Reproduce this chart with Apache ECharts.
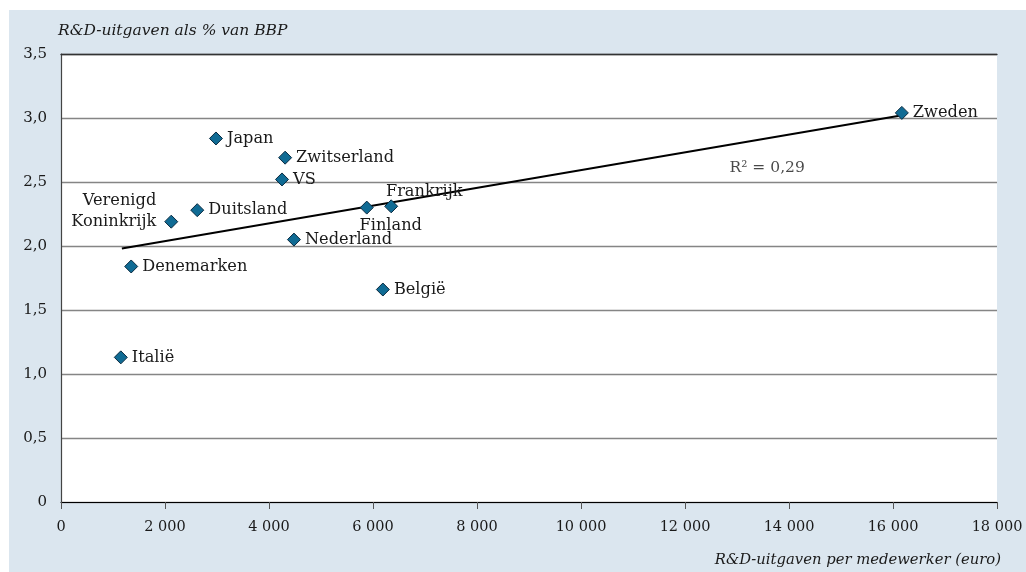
<!DOCTYPE html>
<html>
<head>
<meta charset="utf-8">
<script src="https://cdn.jsdelivr.net/npm/echarts@6/dist/echarts.min.js"></script>
<style>
html,body{margin:0;padding:0;background:#fff;}
#c{width:1026px;height:572px;}
</style>
</head>
<body>
<div id="c"></div>
<script>
// Data
var countries = ['Zweden','Japan','Zwitserland','VS','Duitsland','Verenigd\nKoninkrijk','Finland','Frankrijk','Nederland','Denemarken','België','Italië'];
var xValues = [16170, 2980, 4310, 4250, 2620, 2120, 5880, 6350, 4480, 1350, 6190, 1150];
var yValues = [3.04, 2.84, 2.69, 2.52, 2.28, 2.19, 2.30, 2.31, 2.05, 1.84, 1.66, 1.13];
var trendX = [1170, 16150];
var trendY = [1.98, 3.02];
var r2Text = 'R² = 0,29';
var r2Pos = [13580, 2.61];
var yTitle = 'R&D-uitgaven als % van BBP';
var xTitle = 'R&D-uitgaven per medewerker (euro)';

var FONT = 'DejaVu Serif';
var labelPos = {
  'Verenigd\nKoninkrijk': {position: 'left', offset: [0, -10], align: 'right', distance: 8, lineHeight: 21},
  'Finland': {position: 'bottom', offset: [24, 0], distance: 3},
  'Frankrijk': {position: 'top', offset: [33, 2], distance: 2}
};
var pts = countries.map(function (n, i) {
  var lp = labelPos[n] || {position: 'right', distance: 4};
  return {
    value: [xValues[i], yValues[i]],
    name: n,
    label: Object.assign({show: true, formatter: '{b}'}, lp)
  };
});

var chart = echarts.init(document.getElementById('c'));
chart.setOption({
  backgroundColor: '#ffffff',
  animation: false,
  graphic: [{
    type: 'rect', z: -10, silent: true,
    shape: {x: 9, y: 10, width: 1017, height: 562},
    style: {fill: '#dbe6ef'}
  }],
  title: [{
    text: yTitle, left: 53, top: 18,
    textStyle: {fontFamily: FONT, fontStyle: 'italic', fontWeight: 'normal', fontSize: 15.5, color: '#1a1a1a'}
  }, {
    text: xTitle, right: 20, top: 548,
    textStyle: {fontFamily: FONT, fontStyle: 'italic', fontWeight: 'normal', fontSize: 14.8, color: '#1a1a1a'}
  }],
  grid: {left: 61, top: 54, right: 29, bottom: 70, show: true, backgroundColor: '#ffffff', borderWidth: 0},
  xAxis: [{
    type: 'value', min: 0, max: 18000, interval: 2000,
    axisLine: {show: true, onZero: false, lineStyle: {color: '#000', width: 1.2}},
    axisTick: {show: true, length: 7, lineStyle: {color: '#555'}},
    splitLine: {show: false},
    axisLabel: {
      margin: 18, fontFamily: FONT, fontSize: 14.5, color: '#1a1a1a',
      formatter: function (v) { return String(v).replace(/\B(?=(\d{3})+(?!\d))/g, ' '); }
    }
  }, {
    type: 'value', min: 0, max: 18000, interval: 2000, position: 'top',
    axisLine: {show: true, onZero: false, lineStyle: {color: '#333', width: 1.3}},
    axisTick: {show: false}, axisLabel: {show: false}, splitLine: {show: false}
  }],
  yAxis: {
    type: 'value', min: 0, max: 3.5, interval: 0.5,
    axisLine: {show: true, lineStyle: {color: '#444', width: 1.2}},
    axisTick: {show: false},
    splitLine: {show: true, lineStyle: {color: '#858585', width: 1.3}},
    axisLabel: {
      margin: 14, fontFamily: FONT, fontSize: 15, color: '#1a1a1a',
      formatter: function (v) { return v === 0 ? '0' : v.toFixed(1).replace('.', ','); }
    }
  },
  series: [{
    type: 'line',
    data: trendX.map(function (x, i) { return [x, trendY[i]]; }),
    symbol: 'none',
    lineStyle: {color: '#000', width: 2},
    z: 2
  }, {
    type: 'scatter',
    data: pts,
    symbol: 'diamond',
    symbolSize: 13,
    itemStyle: {color: '#106b94', borderColor: '#0a2a40', borderWidth: 1, opacity: 1},
    label: {fontFamily: FONT, fontSize: 16.2, color: '#1a1a1a'},
    z: 3
  }, {
    type: 'scatter',
    data: [r2Pos],
    symbolSize: 0,
    label: {show: true, position: 'inside', formatter: r2Text, fontFamily: FONT, fontSize: 15.5, color: '#1a1a1a'},
    z: 3
  }]
});
</script>
</body>
</html>
